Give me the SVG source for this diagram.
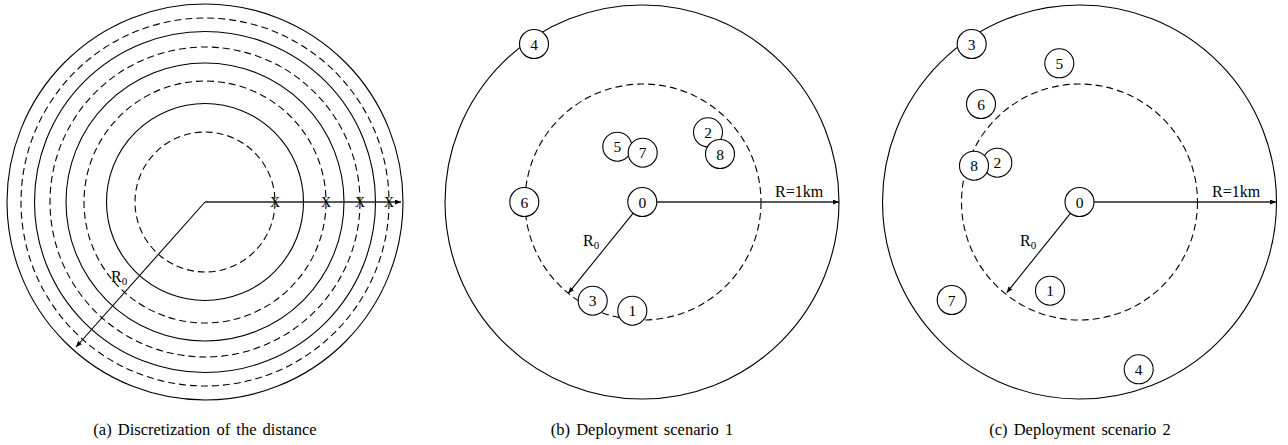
<svg xmlns="http://www.w3.org/2000/svg" width="1288" height="445" viewBox="0 0 1288 445">
<style>
.bg{fill:#fff}
.solid{fill:none;stroke:#000;stroke-width:1.1}
.dash{fill:none;stroke:#000;stroke-width:1.1;stroke-dasharray:7 4}
.conn{fill:none;stroke:#000;stroke-width:1.1}
.axis{fill:none;stroke:#222;stroke-width:1.4}
.node circle{fill:#fff;stroke:#000;stroke-width:1.1}
.node text,.lbl{font-family:"Liberation Serif","Times New Roman",serif;fill:#000}
.node text{font-size:15.5px;text-anchor:middle}
.lbl{font-size:16px}
.sub{font-size:11px}
.xm{font-family:"Liberation Serif",serif;font-size:14px;text-anchor:middle;fill:#000}
.cap{font-family:"Liberation Serif","Times New Roman",serif;font-size:16.5px;text-anchor:middle;fill:#000;word-spacing:2px}
</style>
<defs>
<marker id="ah" markerUnits="userSpaceOnUse" markerWidth="6" markerHeight="5" refX="6" refY="2.5" orient="auto">
<path d="M0,0 L6,2.5 L0,5 z" fill="#000"/>
</marker>
</defs>
<rect class="bg" x="0" y="0" width="1288" height="445"/>

<!-- Panel (a) -->
<g id="panel-a">
<circle class="solid" cx="205" cy="202" r="198"/>
<circle class="dash" cx="205" cy="202" r="184"/>
<circle class="solid" cx="205" cy="202" r="170.5"/>
<circle class="dash" cx="205" cy="202" r="155"/>
<circle class="solid" cx="205" cy="202" r="139"/>
<circle class="dash" cx="205" cy="202" r="121"/>
<circle class="solid" cx="205" cy="202" r="98.5"/>
<circle class="dash" cx="205" cy="202" r="70"/>
</g>

<!-- Panel (b) -->
<g id="panel-b">
<circle class="solid" cx="642" cy="202" r="197"/>
<circle class="dash" cx="643" cy="202" r="118"/>
</g>

<!-- Panel (c) -->
<g id="panel-c">
<circle class="solid" cx="1079.5" cy="202" r="197"/>
<circle class="dash" cx="1079.5" cy="202" r="118"/>
</g>

<g id="connectors">
<line class="axis" x1="205" y1="202" x2="401" y2="202" marker-end="url(#ah)"/>
<line class="conn" x1="205" y1="202" x2="76" y2="347" marker-end="url(#ah)"/>
<line class="axis" x1="657" y1="202" x2="839" y2="202" marker-end="url(#ah)"/>
<line class="conn" x1="633" y1="213.3" x2="568.3" y2="293.3" marker-end="url(#ah)"/>
<line class="axis" x1="1094" y1="202" x2="1276" y2="202" marker-end="url(#ah)"/>
<line class="conn" x1="1070.4" y1="213.3" x2="1006.7" y2="292.7" marker-end="url(#ah)"/>
</g>

<g id="marks-a">
<text class="xm" x="275" y="207">X</text>
<text class="xm" x="326" y="207">X</text>
<text class="xm" x="360" y="207">X</text>
<text class="xm" x="389" y="207">X</text>
</g>

<g id="labels">
<text class="lbl" x="111" y="282">R<tspan class="sub" dy="3">0</tspan></text>
<text class="lbl" x="583" y="246">R<tspan class="sub" dy="3">0</tspan></text>
<text class="lbl" x="1020" y="246">R<tspan class="sub" dy="3">0</tspan></text>
<text class="lbl" x="775" y="197">R=1km</text>
<text class="lbl" x="1212" y="197">R=1km</text>
</g>

<!-- Nodes (b) -->
<g id="b-node-0" class="node"><circle cx="642.3" cy="202" r="14.5"/><text x="642.3" y="207.5">0</text></g>
<g id="b-node-4" class="node"><circle cx="534" cy="44" r="14.5"/><text x="534" y="49.5">4</text></g>
<g id="b-node-5" class="node"><circle cx="617.3" cy="146.7" r="14.5"/><text x="617.3" y="152.2">5</text></g>
<g id="b-node-7" class="node"><circle cx="642.7" cy="152.7" r="14.5"/><text x="642.7" y="158.2">7</text></g>
<g id="b-node-2" class="node"><circle cx="708" cy="132.3" r="14.5"/><text x="708" y="137.8">2</text></g>
<g id="b-node-8" class="node"><circle cx="720" cy="154" r="14.5"/><text x="720" y="159.5">8</text></g>
<g id="b-node-6" class="node"><circle cx="524.3" cy="202" r="14.5"/><text x="524.3" y="207.5">6</text></g>
<g id="b-node-3" class="node"><circle cx="592.7" cy="300.7" r="14.5"/><text x="592.7" y="306.2">3</text></g>
<g id="b-node-1" class="node"><circle cx="632.3" cy="310.7" r="14.5"/><text x="632.3" y="316.2">1</text></g>

<!-- Nodes (c) -->
<g id="c-node-0" class="node"><circle cx="1079.5" cy="202" r="14.5"/><text x="1079.5" y="207.5">0</text></g>
<g id="c-node-3" class="node"><circle cx="971.7" cy="44" r="14.5"/><text x="971.7" y="49.5">3</text></g>
<g id="c-node-5" class="node"><circle cx="1059.3" cy="63.3" r="14.5"/><text x="1059.3" y="68.8">5</text></g>
<g id="c-node-6" class="node"><circle cx="981" cy="104" r="14.5"/><text x="981" y="109.5">6</text></g>
<g id="c-node-2" class="node"><circle cx="997.3" cy="162.7" r="14.5"/><text x="997.3" y="168.2">2</text></g>
<g id="c-node-8" class="node"><circle cx="974" cy="165.7" r="14.5"/><text x="974" y="171.2">8</text></g>
<g id="c-node-1" class="node"><circle cx="1050" cy="290.7" r="14.5"/><text x="1050" y="296.2">1</text></g>
<g id="c-node-7" class="node"><circle cx="951.7" cy="300" r="14.5"/><text x="951.7" y="305.5">7</text></g>
<g id="c-node-4" class="node"><circle cx="1138.7" cy="369.3" r="14.5"/><text x="1138.7" y="374.8">4</text></g>

<g id="captions">
<text class="cap" x="205" y="435">(a) Discretization of the distance</text>
<text class="cap" x="642" y="435">(b) Deployment scenario 1</text>
<text class="cap" x="1080" y="435">(c) Deployment scenario 2</text>
</g>
</svg>
